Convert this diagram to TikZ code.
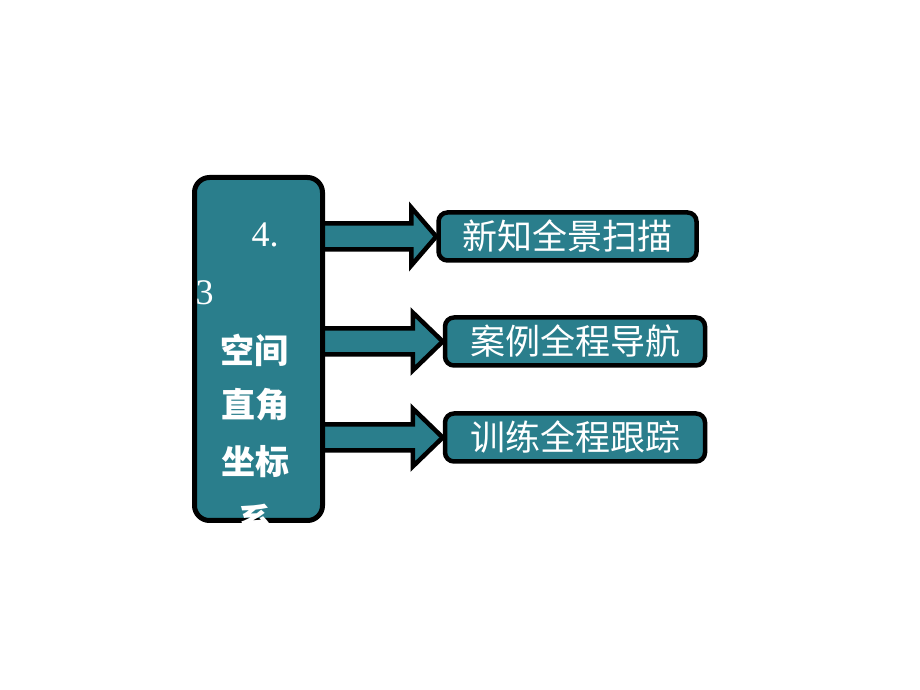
\documentclass[tikz,border=0pt]{standalone}
\usepackage{fontspec}
\setmainfont{Liberation Serif}
\newfontfamily\cjk{Noto Sans CJK SC}
\usetikzlibrary{backgrounds}
\definecolor{tealbox}{RGB}{42,126,140}
\tikzset{
  panel/.style={draw=black,line width=5pt,fill=tealbox,rounded corners=15pt,inner sep=0pt},
  entry/.style={panel,line width=4.5pt,rounded corners=9pt,minimum width=258pt,minimum height=48pt,
    text=white,font=\cjk\fontsize{35}{35}\selectfont},
  fatarrow/.style={draw=black,line width=4.5pt,fill=tealbox,line join=miter},
  paneltext/.style={text=white,inner sep=0pt,font=\fontsize{36}{36}\selectfont},
  panelcjk/.style={paneltext,font=\cjk\bfseries\fontsize{34}{34}\selectfont}
}

\begin{document}
\begin{tikzpicture}[x=1pt,y=1pt]
\useasboundingbox (0,0) rectangle (920,690);
\node[panel,minimum width=128pt,minimum height=343pt] (main) at (258.5,341) {};
\node[entry] (b1) at (567.5,453.5) {新知全景扫描};
\node[entry,minimum width=260pt] (b2) at (575,348.5) {案例全程导航};
\node[entry,minimum width=260pt] (b3) at (575,252.5) {训练全程跟踪};
\begin{scope}[on background layer]
\foreach \b/\h in {b1/-25,b2/-30,b3/-30}
  \draw[fatarrow] ([yshift=13pt]main.center |- \b.west) -- ([shift={(\h pt,13pt)}]\b.west)
    -- ([shift={(\h pt,29pt)}]\b.west) -- (\b.west) -- ([shift={(\h pt,-29pt)}]\b.west)
    -- ([shift={(\h pt,-13pt)}]\b.west) -- ([yshift=-13pt]main.center |- \b.west) -- cycle;
\end{scope}
% title text, cut off at the panel edge
\begin{scope}
\clip[rounded corners=16pt] (main.south west) rectangle (main.north east);
\node[paneltext,anchor=base] (t1) at (265,443) {4.};
\node[paneltext,anchor=base] (t2) at (204.5,385) {3};
\node[panelcjk] (t3) at (254,340) {空间};
\node[panelcjk] (t4) at (255,285) {直角};
\node[panelcjk] (t5) at (255,228) {坐标};
\node[panelcjk] (t6) at (255,170) {系};
\end{scope}
\end{tikzpicture}
\end{document}
